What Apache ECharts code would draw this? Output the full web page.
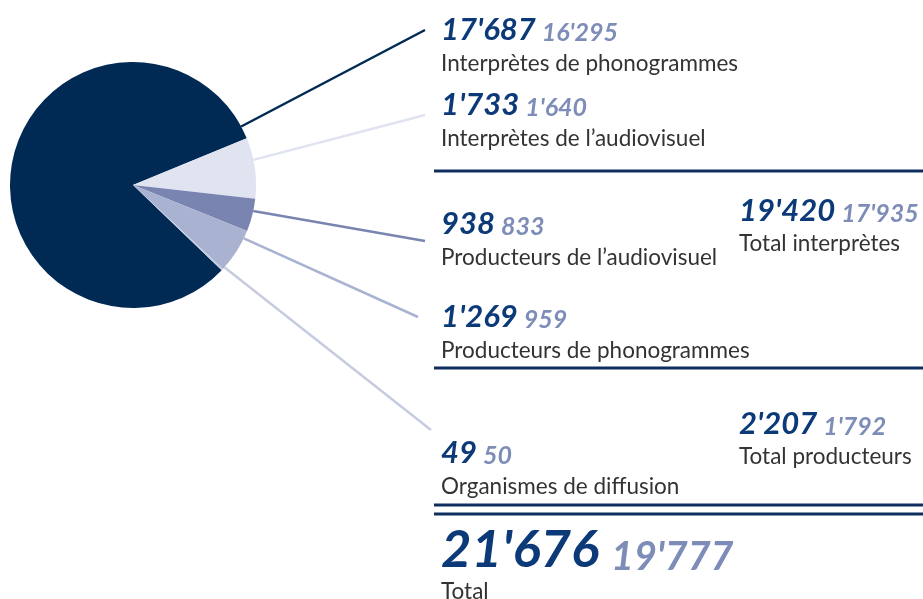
<!doctype html>
<html>
<head>
	<meta charset="utf-8">
	<style>
		html, body { margin: 0; padding: 0; background: #fff; }
		#main { width: 923px; height: 599px; }
	</style>
</head>
<body>
	<div id="main"></div>
</body>
<script src="https://cdn.jsdelivr.net/npm/echarts@6/dist/echarts.min.js"></script>
<script type="text/javascript">
	// données
	var categories = ['Interprètes de phonogrammes', 'Interprètes de l’audiovisuel', 'Producteurs de l’audiovisuel', 'Producteurs de phonogrammes', 'Organismes de diffusion'];
	var values = [17687, 1733, 938, 1269, 49];
	var prevValues = [16295, 1640, 833, 959, 50];
	var totalNames = ['Total interprètes', 'Total producteurs', 'Total'];
	var totalValues = [19420, 2207, 21676];
	var totalPrev = [17935, 1792, 19777];

	var colors = ['#002a54', '#e0e3f0', '#7985b0', '#aab2d2', '#c6cbe0'];
	var numColor = '#0c3a78';
	var prevColor = '#7e8db8';
	var textColor = '#333';
	var ruleColor = '#0e2f5e';
	var font = 'Lato';

	// position des étiquettes (x, haut) et angle de départ du trait
	var labelPos = [[441, 11], [441, 86], [441, 205], [441, 298], [441, 434]];
	var lineEnd = [[425, 30], [425, 115], [425, 241], [418, 317], [431, 430]];
	var lineAngle = [28.4, 11.8, -12.2, -25.7, -42];
	var cx = 133, cy = 185, r = 123;

	function fmt(n) {
		return String(n).replace(/\B(?=(\d{3})+(?!\d))/g, "'");
	}

	var rich = {
		v: { fontFamily: font, fontSize: 31, fontWeight: 'bold', fontStyle: 'italic', color: numColor, lineHeight: 34, verticalAlign: 'bottom', padding: [0, 6, 0, 0] },
		p: { fontFamily: font, fontSize: 25, fontWeight: 'bold', fontStyle: 'italic', color: prevColor, lineHeight: 30, verticalAlign: 'bottom' },
		n: { fontFamily: font, fontSize: 22.5, color: textColor, lineHeight: 38 }
	};

	var pieData = values.map(function(v, i) {
		return {
			name: categories[i],
			value: v,
			prev: prevValues[i],
			itemStyle: { color: colors[i] },
			labelLine: { lineStyle: { color: colors[i] } }
		};
	});

	var myChart = echarts.init(document.getElementById('main'), null, { renderer: 'canvas' });

	var graphics = [
		{ type: 'line', shape: { x1: 434, y1: 171, x2: 923, y2: 171 }, style: { stroke: ruleColor, lineWidth: 3 } },
		{ type: 'line', shape: { x1: 434, y1: 368, x2: 923, y2: 368 }, style: { stroke: ruleColor, lineWidth: 3 } },
		{ type: 'line', shape: { x1: 434, y1: 505, x2: 923, y2: 505 }, style: { stroke: ruleColor, lineWidth: 3 } },
		{ type: 'line', shape: { x1: 434, y1: 514, x2: 923, y2: 514 }, style: { stroke: ruleColor, lineWidth: 3 } }
	];
	var totalPos = [[739, 192], [739, 405], [441, 525]];
	totalNames.forEach(function(name, i) {
		var big = i == 2;
		graphics.push({
			type: 'text',
			x: totalPos[i][0],
			y: totalPos[i][1],
			style: {
				text: '{v|' + fmt(totalValues[i]) + '}{p|' + fmt(totalPrev[i]) + '}\n{n|' + name + '}',
				rich: {
					v: { fontFamily: font, fontSize: big ? 52.5 : 31, fontWeight: 'bold', fontStyle: 'italic', fill: numColor, lineHeight: big ? 52 : 34, verticalAlign: 'bottom', padding: [0, big ? 12 : 6, 0, 0] },
					p: { fontFamily: font, fontSize: big ? 39.5 : 25, fontWeight: 'bold', fontStyle: 'italic', fill: prevColor, lineHeight: big ? 43 : 30, verticalAlign: 'bottom' },
					n: { fontFamily: font, fontSize: 22.5, fill: textColor, lineHeight: big ? 30 : 36 }
				}
			}
		});
	});

	var total = values.reduce(function(a, b) { return a + b; }, 0);

	option = {
		animation: false,
		series: [{
			type: 'pie',
			center: [cx, cy],
			radius: r,
			// la tranche claire commence à 22.4°
			startAngle: 22.4 + 360 * values[0] / total,
			clockwise: true,
			silent: true,
			data: pieData,
			label: {
				show: true,
				position: 'outside',
				width: 420,
				overflow: 'none',
				formatter: function(p) {
					return '{v|' + fmt(p.value) + '}{p|' + fmt(p.data.prev) + '}\n{n|' + p.name + '}';
				},
				rich: rich
			},
			labelLine: {
				show: true,
				lineStyle: { width: 2.5 }
			},
			labelLayout: function(params) {
				var i = params.dataIndex;
				var a = lineAngle[i] * Math.PI / 180;
				return {
					x: labelPos[i][0],
					y: labelPos[i][1],
					align: 'left',
					verticalAlign: 'top',
					labelLinePoints: [
						[cx + r * Math.cos(a), cy - r * Math.sin(a)],
						lineEnd[i],
						lineEnd[i]
					]
				};
			}
		}],
		graphic: graphics
	};
	myChart.setOption(option);
</script>
</html>
